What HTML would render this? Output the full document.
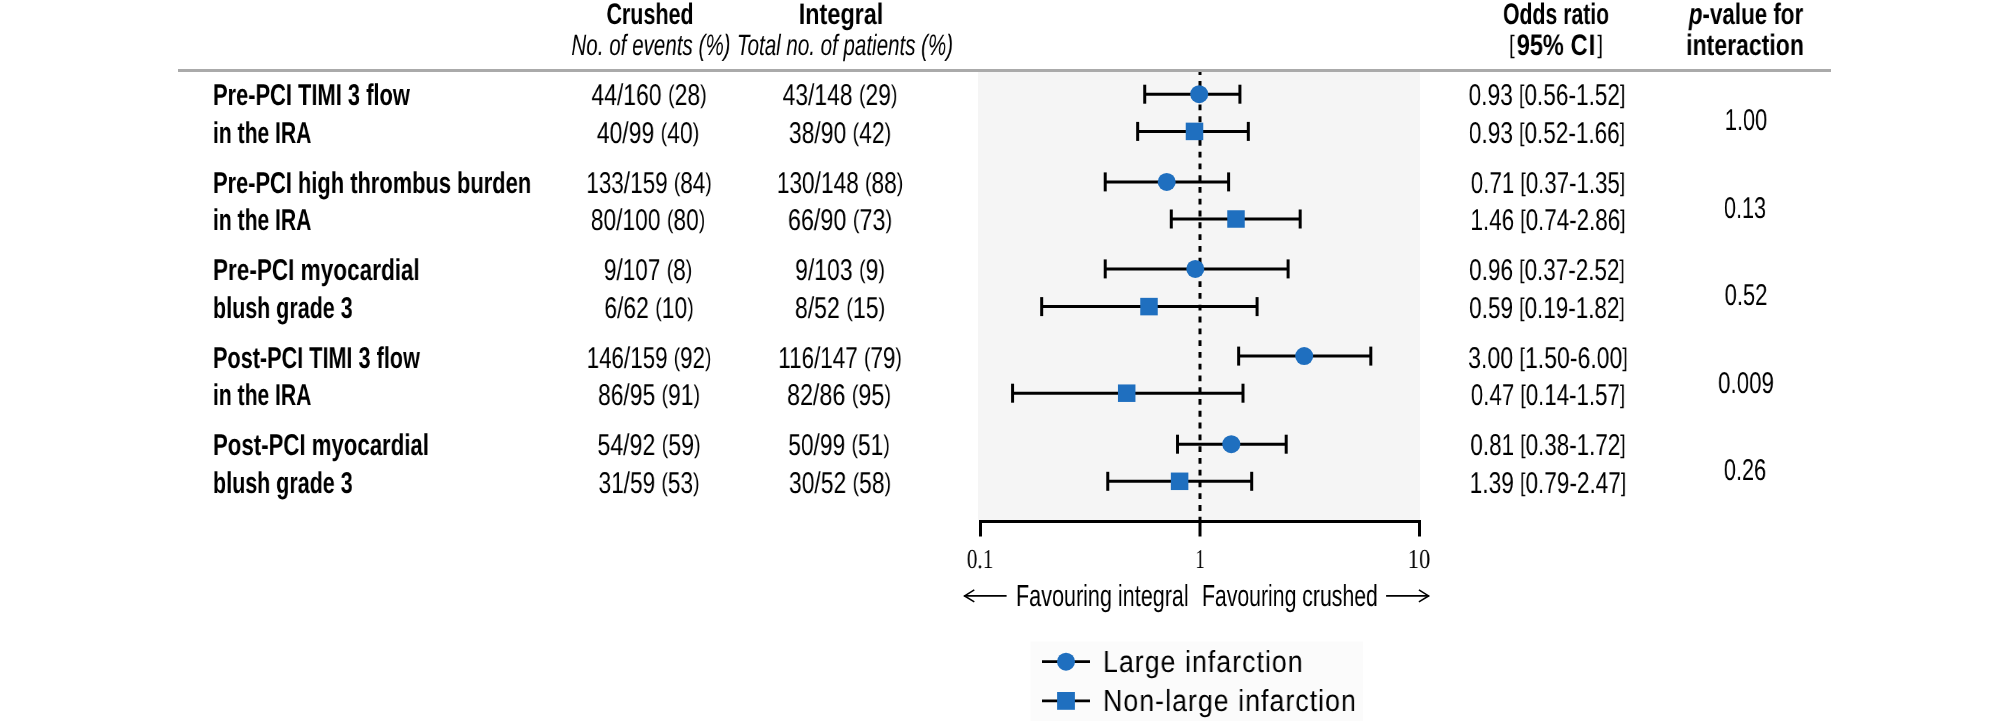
<!DOCTYPE html>
<html><head><meta charset="utf-8"><style>
html,body{margin:0;padding:0;background:#fff;}
body{width:2009px;height:721px;position:relative;overflow:hidden;}
.t{position:absolute;white-space:nowrap;will-change:transform;text-rendering:geometricPrecision;}
svg{position:absolute;left:0;top:0;}
.pb{font-size:0.85em;position:relative;top:-2.2px;}
</style></head><body>
<svg width="2009" height="721" viewBox="0 0 2009 721">
<rect x="978" y="72" width="442" height="448" fill="#f5f5f5"/>
<line x1="1200.0" y1="69.22" x2="1200.0" y2="520" stroke="#000" stroke-width="3" stroke-dasharray="5.8 5.98" stroke-dashoffset="0"/>
<rect x="178" y="69" width="1653" height="3" fill="#aaaaaa"/>
<line x1="979.0" y1="521.6" x2="1421.0" y2="521.6" stroke="#000" stroke-width="3"/>
<line x1="980.5" y1="520.1" x2="980.5" y2="536.5" stroke="#000" stroke-width="3"/>
<line x1="1200.0" y1="520.1" x2="1200.0" y2="536.5" stroke="#000" stroke-width="3"/>
<line x1="1419.5" y1="520.1" x2="1419.5" y2="536.5" stroke="#000" stroke-width="3"/>
<line x1="1144.727271927861" y1="94.2" x2="1239.9146675538775" y2="94.2" stroke="#000" stroke-width="3"/>
<line x1="1144.727271927861" y1="84.7" x2="1144.727271927861" y2="103.7" stroke="#000" stroke-width="3"/>
<line x1="1239.9146675538775" y1="84.7" x2="1239.9146675538775" y2="103.7" stroke="#000" stroke-width="3"/>
<circle cx="1199.2" cy="94.2" r="9" fill="#1f6fbf"/>
<line x1="1137.6627339278384" y1="131.4" x2="1248.3137253247921" y2="131.4" stroke="#000" stroke-width="3"/>
<line x1="1137.6627339278384" y1="121.9" x2="1137.6627339278384" y2="140.9" stroke="#000" stroke-width="3"/>
<line x1="1248.3137253247921" y1="121.9" x2="1248.3137253247921" y2="140.9" stroke="#000" stroke-width="3"/>
<rect x="1185.75" y="122.65" width="17.5" height="17.5" fill="#1f6fbf"/>
<line x1="1105.2202784327053" y1="181.9" x2="1228.6082621846538" y2="181.9" stroke="#000" stroke-width="3"/>
<line x1="1105.2202784327053" y1="172.4" x2="1105.2202784327053" y2="191.4" stroke="#000" stroke-width="3"/>
<line x1="1228.6082621846538" y1="172.4" x2="1228.6082621846538" y2="191.4" stroke="#000" stroke-width="3"/>
<circle cx="1166.7" cy="181.9" r="9" fill="#1f6fbf"/>
<line x1="1171.2963624809493" y1="219" x2="1300.1723442718248" y2="219" stroke="#000" stroke-width="3"/>
<line x1="1171.2963624809493" y1="209.5" x2="1171.2963624809493" y2="228.5" stroke="#000" stroke-width="3"/>
<line x1="1300.1723442718248" y1="209.5" x2="1300.1723442718248" y2="228.5" stroke="#000" stroke-width="3"/>
<rect x="1227.25" y="210.25" width="17.5" height="17.5" fill="#1f6fbf"/>
<line x1="1105.2202784327053" y1="268.9" x2="1288.107418701549" y2="268.9" stroke="#000" stroke-width="3"/>
<line x1="1105.2202784327053" y1="259.4" x2="1105.2202784327053" y2="278.4" stroke="#000" stroke-width="3"/>
<line x1="1288.107418701549" y1="259.4" x2="1288.107418701549" y2="278.4" stroke="#000" stroke-width="3"/>
<circle cx="1195.3" cy="268.9" r="9" fill="#1f6fbf"/>
<line x1="1041.6864154091459" y1="306.6" x2="1257.0856696627238" y2="306.6" stroke="#000" stroke-width="3"/>
<line x1="1041.6864154091459" y1="297.1" x2="1041.6864154091459" y2="316.1" stroke="#000" stroke-width="3"/>
<line x1="1257.0856696627238" y1="297.1" x2="1257.0856696627238" y2="316.1" stroke="#000" stroke-width="3"/>
<rect x="1140.25" y="297.85" width="17.5" height="17.5" fill="#1f6fbf"/>
<line x1="1238.652031362722" y1="356.1" x2="1370.8041994592097" y2="356.1" stroke="#000" stroke-width="3"/>
<line x1="1238.652031362722" y1="346.6" x2="1238.652031362722" y2="365.6" stroke="#000" stroke-width="3"/>
<line x1="1370.8041994592097" y1="346.6" x2="1370.8041994592097" y2="365.6" stroke="#000" stroke-width="3"/>
<circle cx="1304.2" cy="356.1" r="9" fill="#1f6fbf"/>
<line x1="1012.5751038313732" y1="393.2" x2="1242.9999737038268" y2="393.2" stroke="#000" stroke-width="3"/>
<line x1="1012.5751038313732" y1="383.7" x2="1012.5751038313732" y2="402.7" stroke="#000" stroke-width="3"/>
<line x1="1242.9999737038268" y1="383.7" x2="1242.9999737038268" y2="402.7" stroke="#000" stroke-width="3"/>
<rect x="1117.95" y="384.45" width="17.5" height="17.5" fill="#1f6fbf"/>
<line x1="1177.529146538252" y1="444.2" x2="1286.1969812404966" y2="444.2" stroke="#000" stroke-width="3"/>
<line x1="1177.529146538252" y1="434.7" x2="1177.529146538252" y2="453.7" stroke="#000" stroke-width="3"/>
<line x1="1286.1969812404966" y1="434.7" x2="1286.1969812404966" y2="453.7" stroke="#000" stroke-width="3"/>
<circle cx="1231.3" cy="444.2" r="9" fill="#1f6fbf"/>
<line x1="1107.7624994573898" y1="481.3" x2="1251.698494096207" y2="481.3" stroke="#000" stroke-width="3"/>
<line x1="1107.7624994573898" y1="471.8" x2="1107.7624994573898" y2="490.8" stroke="#000" stroke-width="3"/>
<line x1="1251.698494096207" y1="471.8" x2="1251.698494096207" y2="490.8" stroke="#000" stroke-width="3"/>
<rect x="1170.85" y="472.55" width="17.5" height="17.5" fill="#1f6fbf"/>
<line x1="964.3" y1="595.9" x2="1006.6" y2="595.9" stroke="#000" stroke-width="1.6"/>
<polyline points="974.3,589.9 964.5999999999999,595.9 974.3,601.9" fill="none" stroke="#000" stroke-width="1.6" stroke-linejoin="miter"/>
<line x1="1428.9" y1="595.9" x2="1386.1" y2="595.9" stroke="#000" stroke-width="1.6"/>
<polyline points="1418.9,589.9 1428.6000000000001,595.9 1418.9,601.9" fill="none" stroke="#000" stroke-width="1.6" stroke-linejoin="miter"/>
<rect x="1030.5" y="641.6" width="332.5" height="79.39999999999998" fill="#fbfbfb"/>
<line x1="1042" y1="661.7" x2="1090" y2="661.7" stroke="#000" stroke-width="2.8"/>
<circle cx="1066" cy="661.7" r="9.0" fill="#1f6fbf"/>
<line x1="1042" y1="700.9" x2="1090" y2="700.9" stroke="#000" stroke-width="2.8"/>
<rect x="1057.1" y="692.0" width="17.8" height="17.8" fill="#1f6fbf"/>
</svg>
<div class="t" style="left:49.64px;width:1200px;top:-1.98px;font-size:29.65px;line-height:33.125px;font-family:'Liberation Sans', sans-serif;font-weight:bold;font-style:normal;text-align:center;transform:scaleX(0.7256);transform-origin:50% 0;color:#000;">Crushed</div>
<div class="t" style="left:240.75px;width:1200px;top:-1.98px;font-size:29.65px;line-height:33.125px;font-family:'Liberation Sans', sans-serif;font-weight:bold;font-style:normal;text-align:center;transform:scaleX(0.7909);transform-origin:50% 0;color:#000;">Integral</div>
<div class="t" style="left:50.58px;width:1200px;top:30.03px;font-size:29.5px;line-height:32.957px;font-family:'Liberation Sans', sans-serif;font-weight:normal;font-style:italic;text-align:center;transform:scaleX(0.6983);transform-origin:50% 0;color:#000;">No. of events (%)</div>
<div class="t" style="left:245.24px;width:1200px;top:30.03px;font-size:29.5px;line-height:32.957px;font-family:'Liberation Sans', sans-serif;font-weight:normal;font-style:italic;text-align:center;transform:scaleX(0.696);transform-origin:50% 0;color:#000;">Total no. of patients (%)</div>
<div class="t" style="left:956.09px;width:1200px;top:-1.98px;font-size:29.65px;line-height:33.125px;font-family:'Liberation Sans', sans-serif;font-weight:bold;font-style:normal;text-align:center;transform:scaleX(0.7161);transform-origin:50% 0;color:#000;">Odds ratio</div>
<div class="t" style="left:956.02px;width:1200px;top:29.02px;font-size:29.65px;line-height:33.125px;font-family:'Liberation Sans', sans-serif;font-weight:bold;font-style:normal;text-align:center;transform:scaleX(0.7983);transform-origin:50% 0;color:#000;"><span class="pb" style="font-weight:normal;margin-right:2.5px">[</span>95% C<span style="margin-left:1.5px">I</span><span class="pb" style="font-weight:normal;margin-left:2.5px">]</span></div>
<div class="t" style="left:1145.95px;width:1200px;top:-1.98px;font-size:29.65px;line-height:33.125px;font-family:'Liberation Sans', sans-serif;font-weight:bold;font-style:normal;text-align:center;transform:scaleX(0.755);transform-origin:50% 0;color:#000;"><i>p</i>-value for</div>
<div class="t" style="left:1144.89px;width:1200px;top:29.02px;font-size:29.65px;line-height:33.125px;font-family:'Liberation Sans', sans-serif;font-weight:bold;font-style:normal;text-align:center;transform:scaleX(0.777);transform-origin:50% 0;color:#000;">interaction</div>
<div class="t" style="left:212.87px;top:79.01px;font-size:30.1px;line-height:33.627px;font-family:'Liberation Sans', sans-serif;font-weight:bold;font-style:normal;text-align:left;transform:scaleX(0.7269);transform-origin:0 0;color:#000;">Pre-PCI TIMI 3 flow</div>
<div class="t" style="left:48.82px;width:1200px;top:79.01px;font-size:30.1px;line-height:33.627px;font-family:'Liberation Sans', sans-serif;font-weight:normal;font-style:normal;text-align:center;transform:scaleX(0.7634);transform-origin:50% 0;color:#000;">44/160 <span class="pb">(</span>28<span class="pb">)</span></div>
<div class="t" style="left:239.58px;width:1200px;top:79.01px;font-size:30.1px;line-height:33.627px;font-family:'Liberation Sans', sans-serif;font-weight:normal;font-style:normal;text-align:center;transform:scaleX(0.7602);transform-origin:50% 0;color:#000;">43/148 <span class="pb">(</span>29<span class="pb">)</span></div>
<div class="t" style="left:947.41px;width:1200px;top:79.01px;font-size:30.1px;line-height:33.627px;font-family:'Liberation Sans', sans-serif;font-weight:normal;font-style:normal;text-align:center;transform:scaleX(0.7519);transform-origin:50% 0;color:#000;">0.93 <span class="pb">[</span>0.56-1.52<span class="pb">]</span></div>
<div class="t" style="left:212.87px;top:117.01px;font-size:30.1px;line-height:33.627px;font-family:'Liberation Sans', sans-serif;font-weight:bold;font-style:normal;text-align:left;transform:scaleX(0.7003);transform-origin:0 0;color:#000;">in the IRA</div>
<div class="t" style="left:48.21px;width:1200px;top:117.01px;font-size:30.1px;line-height:33.627px;font-family:'Liberation Sans', sans-serif;font-weight:normal;font-style:normal;text-align:center;transform:scaleX(0.7644);transform-origin:50% 0;color:#000;">40/99 <span class="pb">(</span>40<span class="pb">)</span></div>
<div class="t" style="left:240.13px;width:1200px;top:117.01px;font-size:30.1px;line-height:33.627px;font-family:'Liberation Sans', sans-serif;font-weight:normal;font-style:normal;text-align:center;transform:scaleX(0.763);transform-origin:50% 0;color:#000;">38/90 <span class="pb">(</span>42<span class="pb">)</span></div>
<div class="t" style="left:947.26px;width:1200px;top:117.01px;font-size:30.1px;line-height:33.627px;font-family:'Liberation Sans', sans-serif;font-weight:normal;font-style:normal;text-align:center;transform:scaleX(0.7492);transform-origin:50% 0;color:#000;">0.93 <span class="pb">[</span>0.52-1.66<span class="pb">]</span></div>
<div class="t" style="left:1146.14px;width:1200px;top:104.01px;font-size:30.1px;line-height:33.627px;font-family:'Liberation Sans', sans-serif;font-weight:normal;font-style:normal;text-align:center;transform:scaleX(0.7264);transform-origin:50% 0;color:#000;">1.00</div>
<div class="t" style="left:212.87px;top:167.01px;font-size:30.1px;line-height:33.627px;font-family:'Liberation Sans', sans-serif;font-weight:bold;font-style:normal;text-align:left;transform:scaleX(0.7262);transform-origin:0 0;color:#000;">Pre-PCI high thrombus burden</div>
<div class="t" style="left:48.72px;width:1200px;top:167.01px;font-size:30.1px;line-height:33.627px;font-family:'Liberation Sans', sans-serif;font-weight:normal;font-style:normal;text-align:center;transform:scaleX(0.7483);transform-origin:50% 0;color:#000;">133/159 <span class="pb">(</span>84<span class="pb">)</span></div>
<div class="t" style="left:239.87px;width:1200px;top:167.01px;font-size:30.1px;line-height:33.627px;font-family:'Liberation Sans', sans-serif;font-weight:normal;font-style:normal;text-align:center;transform:scaleX(0.7543);transform-origin:50% 0;color:#000;">130/148 <span class="pb">(</span>88<span class="pb">)</span></div>
<div class="t" style="left:947.99px;width:1200px;top:167.01px;font-size:30.1px;line-height:33.627px;font-family:'Liberation Sans', sans-serif;font-weight:normal;font-style:normal;text-align:center;transform:scaleX(0.7406);transform-origin:50% 0;color:#000;">0.71 <span class="pb">[</span>0.37-1.35<span class="pb">]</span></div>
<div class="t" style="left:212.87px;top:204.01px;font-size:30.1px;line-height:33.627px;font-family:'Liberation Sans', sans-serif;font-weight:bold;font-style:normal;text-align:left;transform:scaleX(0.7003);transform-origin:0 0;color:#000;">in the IRA</div>
<div class="t" style="left:48.22px;width:1200px;top:204.01px;font-size:30.1px;line-height:33.627px;font-family:'Liberation Sans', sans-serif;font-weight:normal;font-style:normal;text-align:center;transform:scaleX(0.7582);transform-origin:50% 0;color:#000;">80/100 <span class="pb">(</span>80<span class="pb">)</span></div>
<div class="t" style="left:239.67px;width:1200px;top:204.01px;font-size:30.1px;line-height:33.627px;font-family:'Liberation Sans', sans-serif;font-weight:normal;font-style:normal;text-align:center;transform:scaleX(0.7776);transform-origin:50% 0;color:#000;">66/90 <span class="pb">(</span>73<span class="pb">)</span></div>
<div class="t" style="left:947.62px;width:1200px;top:204.01px;font-size:30.1px;line-height:33.627px;font-family:'Liberation Sans', sans-serif;font-weight:normal;font-style:normal;text-align:center;transform:scaleX(0.7439);transform-origin:50% 0;color:#000;">1.46 <span class="pb">[</span>0.74-2.86<span class="pb">]</span></div>
<div class="t" style="left:1145.16px;width:1200px;top:192.01px;font-size:30.1px;line-height:33.627px;font-family:'Liberation Sans', sans-serif;font-weight:normal;font-style:normal;text-align:center;transform:scaleX(0.7208);transform-origin:50% 0;color:#000;">0.13</div>
<div class="t" style="left:212.79px;top:254.01px;font-size:30.1px;line-height:33.627px;font-family:'Liberation Sans', sans-serif;font-weight:bold;font-style:normal;text-align:left;transform:scaleX(0.7493);transform-origin:0 0;color:#000;">Pre-PCI myocardial</div>
<div class="t" style="left:48.19px;width:1200px;top:254.01px;font-size:30.1px;line-height:33.627px;font-family:'Liberation Sans', sans-serif;font-weight:normal;font-style:normal;text-align:center;transform:scaleX(0.751);transform-origin:50% 0;color:#000;">9/107 <span class="pb">(</span>8<span class="pb">)</span></div>
<div class="t" style="left:240.26px;width:1200px;top:254.01px;font-size:30.1px;line-height:33.627px;font-family:'Liberation Sans', sans-serif;font-weight:normal;font-style:normal;text-align:center;transform:scaleX(0.7636);transform-origin:50% 0;color:#000;">9/103 <span class="pb">(</span>9<span class="pb">)</span></div>
<div class="t" style="left:947.43px;width:1200px;top:254.01px;font-size:30.1px;line-height:33.627px;font-family:'Liberation Sans', sans-serif;font-weight:normal;font-style:normal;text-align:center;transform:scaleX(0.7467);transform-origin:50% 0;color:#000;">0.96 <span class="pb">[</span>0.37-2.52<span class="pb">]</span></div>
<div class="t" style="left:212.87px;top:292.01px;font-size:30.1px;line-height:33.627px;font-family:'Liberation Sans', sans-serif;font-weight:bold;font-style:normal;text-align:left;transform:scaleX(0.7135);transform-origin:0 0;color:#000;">blush grade 3</div>
<div class="t" style="left:48.61px;width:1200px;top:292.01px;font-size:30.1px;line-height:33.627px;font-family:'Liberation Sans', sans-serif;font-weight:normal;font-style:normal;text-align:center;transform:scaleX(0.7606);transform-origin:50% 0;color:#000;">6/62 <span class="pb">(</span>10<span class="pb">)</span></div>
<div class="t" style="left:239.60px;width:1200px;top:292.01px;font-size:30.1px;line-height:33.627px;font-family:'Liberation Sans', sans-serif;font-weight:normal;font-style:normal;text-align:center;transform:scaleX(0.7672);transform-origin:50% 0;color:#000;">8/52 <span class="pb">(</span>15<span class="pb">)</span></div>
<div class="t" style="left:947.43px;width:1200px;top:292.01px;font-size:30.1px;line-height:33.627px;font-family:'Liberation Sans', sans-serif;font-weight:normal;font-style:normal;text-align:center;transform:scaleX(0.7467);transform-origin:50% 0;color:#000;">0.59 <span class="pb">[</span>0.19-1.82<span class="pb">]</span></div>
<div class="t" style="left:1145.50px;width:1200px;top:279.01px;font-size:30.1px;line-height:33.627px;font-family:'Liberation Sans', sans-serif;font-weight:normal;font-style:normal;text-align:center;transform:scaleX(0.732);transform-origin:50% 0;color:#000;">0.52</div>
<div class="t" style="left:212.87px;top:342.01px;font-size:30.1px;line-height:33.627px;font-family:'Liberation Sans', sans-serif;font-weight:bold;font-style:normal;text-align:left;transform:scaleX(0.7193);transform-origin:0 0;color:#000;">Post-PCI TIMI 3 flow</div>
<div class="t" style="left:48.84px;width:1200px;top:342.01px;font-size:30.1px;line-height:33.627px;font-family:'Liberation Sans', sans-serif;font-weight:normal;font-style:normal;text-align:center;transform:scaleX(0.7445);transform-origin:50% 0;color:#000;">146/159 <span class="pb">(</span>92<span class="pb">)</span></div>
<div class="t" style="left:240.35px;width:1200px;top:342.01px;font-size:30.1px;line-height:33.627px;font-family:'Liberation Sans', sans-serif;font-weight:normal;font-style:normal;text-align:center;transform:scaleX(0.7461);transform-origin:50% 0;color:#000;">116/147 <span class="pb">(</span>79<span class="pb">)</span></div>
<div class="t" style="left:947.77px;width:1200px;top:342.01px;font-size:30.1px;line-height:33.627px;font-family:'Liberation Sans', sans-serif;font-weight:normal;font-style:normal;text-align:center;transform:scaleX(0.7662);transform-origin:50% 0;color:#000;">3.00 <span class="pb">[</span>1.50-6.00<span class="pb">]</span></div>
<div class="t" style="left:212.87px;top:379.01px;font-size:30.1px;line-height:33.627px;font-family:'Liberation Sans', sans-serif;font-weight:bold;font-style:normal;text-align:left;transform:scaleX(0.7003);transform-origin:0 0;color:#000;">in the IRA</div>
<div class="t" style="left:48.61px;width:1200px;top:379.01px;font-size:30.1px;line-height:33.627px;font-family:'Liberation Sans', sans-serif;font-weight:normal;font-style:normal;text-align:center;transform:scaleX(0.7613);transform-origin:50% 0;color:#000;">86/95 <span class="pb">(</span>91<span class="pb">)</span></div>
<div class="t" style="left:239.48px;width:1200px;top:379.01px;font-size:30.1px;line-height:33.627px;font-family:'Liberation Sans', sans-serif;font-weight:normal;font-style:normal;text-align:center;transform:scaleX(0.7755);transform-origin:50% 0;color:#000;">82/86 <span class="pb">(</span>95<span class="pb">)</span></div>
<div class="t" style="left:947.99px;width:1200px;top:379.01px;font-size:30.1px;line-height:33.627px;font-family:'Liberation Sans', sans-serif;font-weight:normal;font-style:normal;text-align:center;transform:scaleX(0.7406);transform-origin:50% 0;color:#000;">0.47 <span class="pb">[</span>0.14-1.57<span class="pb">]</span></div>
<div class="t" style="left:1145.54px;width:1200px;top:367.01px;font-size:30.1px;line-height:33.627px;font-family:'Liberation Sans', sans-serif;font-weight:normal;font-style:normal;text-align:center;transform:scaleX(0.7407);transform-origin:50% 0;color:#000;">0.009</div>
<div class="t" style="left:212.79px;top:429.01px;font-size:30.1px;line-height:33.627px;font-family:'Liberation Sans', sans-serif;font-weight:bold;font-style:normal;text-align:left;transform:scaleX(0.738);transform-origin:0 0;color:#000;">Post-PCI myocardial</div>
<div class="t" style="left:49.18px;width:1200px;top:429.01px;font-size:30.1px;line-height:33.627px;font-family:'Liberation Sans', sans-serif;font-weight:normal;font-style:normal;text-align:center;transform:scaleX(0.7696);transform-origin:50% 0;color:#000;">54/92 <span class="pb">(</span>59<span class="pb">)</span></div>
<div class="t" style="left:239.39px;width:1200px;top:429.01px;font-size:30.1px;line-height:33.627px;font-family:'Liberation Sans', sans-serif;font-weight:normal;font-style:normal;text-align:center;transform:scaleX(0.7584);transform-origin:50% 0;color:#000;">50/99 <span class="pb">(</span>51<span class="pb">)</span></div>
<div class="t" style="left:948.13px;width:1200px;top:429.01px;font-size:30.1px;line-height:33.627px;font-family:'Liberation Sans', sans-serif;font-weight:normal;font-style:normal;text-align:center;transform:scaleX(0.745);transform-origin:50% 0;color:#000;">0.81 <span class="pb">[</span>0.38-1.72<span class="pb">]</span></div>
<div class="t" style="left:212.87px;top:467.01px;font-size:30.1px;line-height:33.627px;font-family:'Liberation Sans', sans-serif;font-weight:bold;font-style:normal;text-align:left;transform:scaleX(0.7135);transform-origin:0 0;color:#000;">blush grade 3</div>
<div class="t" style="left:48.77px;width:1200px;top:467.01px;font-size:30.1px;line-height:33.627px;font-family:'Liberation Sans', sans-serif;font-weight:normal;font-style:normal;text-align:center;transform:scaleX(0.7533);transform-origin:50% 0;color:#000;">31/59 <span class="pb">(</span>53<span class="pb">)</span></div>
<div class="t" style="left:239.88px;width:1200px;top:467.01px;font-size:30.1px;line-height:33.627px;font-family:'Liberation Sans', sans-serif;font-weight:normal;font-style:normal;text-align:center;transform:scaleX(0.762);transform-origin:50% 0;color:#000;">30/52 <span class="pb">(</span>58<span class="pb">)</span></div>
<div class="t" style="left:948.05px;width:1200px;top:467.01px;font-size:30.1px;line-height:33.627px;font-family:'Liberation Sans', sans-serif;font-weight:normal;font-style:normal;text-align:center;transform:scaleX(0.7505);transform-origin:50% 0;color:#000;">1.39 <span class="pb">[</span>0.79-2.47<span class="pb">]</span></div>
<div class="t" style="left:1145.31px;width:1200px;top:454.01px;font-size:30.1px;line-height:33.627px;font-family:'Liberation Sans', sans-serif;font-weight:normal;font-style:normal;text-align:center;transform:scaleX(0.7252);transform-origin:50% 0;color:#000;">0.26</div>
<div class="t" style="left:380.48px;width:1200px;top:544.00px;font-size:27.4px;line-height:30.343px;font-family:'Liberation Serif', serif;font-weight:normal;font-style:normal;text-align:center;transform:scaleX(0.7765);transform-origin:50% 0;color:#000;">0.1</div>
<div class="t" style="left:599.81px;width:1200px;top:544.00px;font-size:27.4px;line-height:30.343px;font-family:'Liberation Serif', serif;font-weight:normal;font-style:normal;text-align:center;transform:scaleX(0.679);transform-origin:50% 0;color:#000;">1</div>
<div class="t" style="left:818.75px;width:1200px;top:544.00px;font-size:27.4px;line-height:30.343px;font-family:'Liberation Serif', serif;font-weight:normal;font-style:normal;text-align:center;transform:scaleX(0.8239);transform-origin:50% 0;color:#000;">10</div>
<div class="t" style="left:1015.72px;top:580.02px;font-size:30.4px;line-height:33.962px;font-family:'Liberation Sans', sans-serif;font-weight:normal;font-style:normal;text-align:left;transform:scaleX(0.71);transform-origin:0 0;color:#000;">Favouring integral</div>
<div class="t" style="left:1201.52px;top:580.02px;font-size:30.4px;line-height:33.962px;font-family:'Liberation Sans', sans-serif;font-weight:normal;font-style:normal;text-align:left;transform:scaleX(0.6982);transform-origin:0 0;color:#000;">Favouring crushed</div>
<div class="t" style="left:1103.00px;top:645.01px;font-size:30.5px;line-height:34.074px;font-family:'Liberation Sans', sans-serif;font-weight:normal;font-style:normal;text-align:left;transform:scaleX(0.8747);transform-origin:0 0;color:#000;letter-spacing:1.2px;">Large infarction</div>
<div class="t" style="left:1103.00px;top:684.01px;font-size:30.5px;line-height:34.074px;font-family:'Liberation Sans', sans-serif;font-weight:normal;font-style:normal;text-align:left;transform:scaleX(0.8751);transform-origin:0 0;color:#000;letter-spacing:1.2px;">Non-large infarction</div>
</body></html>
